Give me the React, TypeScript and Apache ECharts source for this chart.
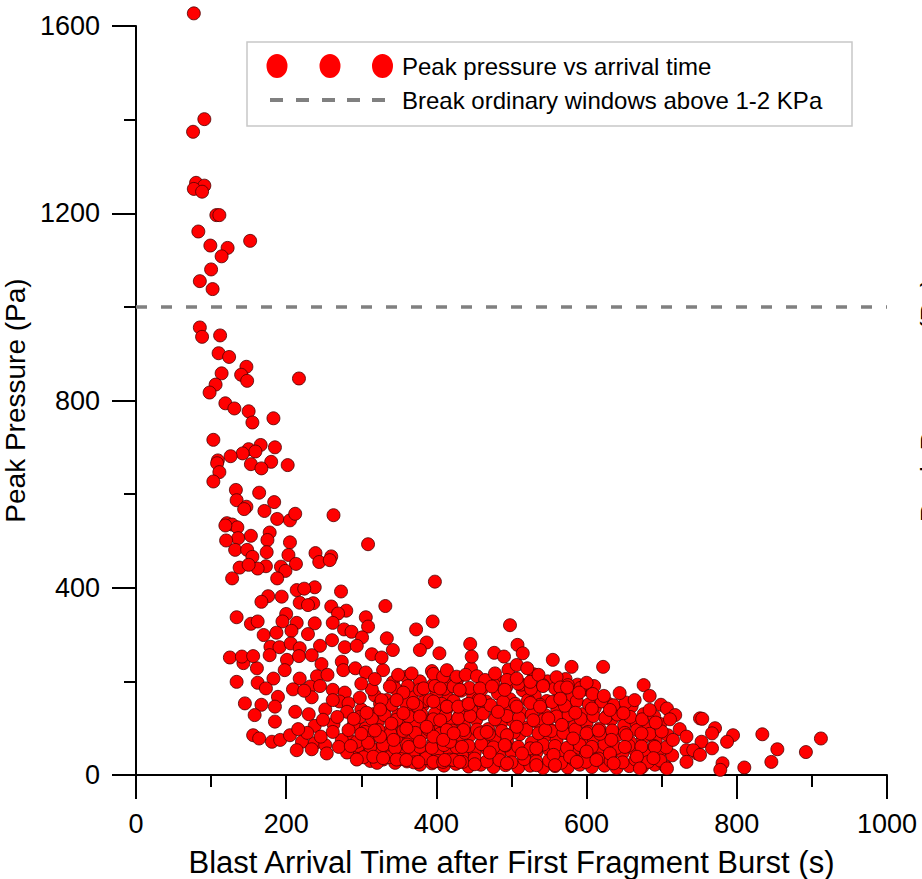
import React, { useEffect, useRef } from "react";
import * as echarts from "echarts";

const FONT = "'Liberation Sans', Arial, Helvetica, sans-serif";

const xTicks = [0, 200, 400, 600, 800, 1000];
const yTicks = [0, 400, 800, 1200, 1600];

const seriesScatterName = "Peak pressure vs arrival time";
const seriesLineName = "Break ordinary windows above 1-2 KPa";
const thresholdPa = 1000;

const sparseUpper: number[][] = [
  [77,1627],[91,1401],[76,1374],[80,1265],[91,1259],[77,1252],[88,1246],[107,1196],[111,1196],[83,1161],
  [99,1131],[122,1126],[152,1141],[114,1108],[100,1080],[85,1055],[102,1038],
  [85,956],[88,936],[112,939],[110,901],[124,893],[147,872],[114,858],[140,855],[148,842],[217,847],
  [106,834],[98,817],[119,794],[131,783],[150,777],[155,753],[183,762],[103,716],[166,705],[185,700],
  [150,696],[159,691],[142,687],[126,681],[109,672],[108,666],[153,664],[180,669],[202,662],[167,655],
  [111,647],[103,627],[133,609],[164,603],[134,587],[147,573],[144,568],[184,583],[171,564],[212,558],[263,555]
];

const midBand: number[][] = [
  [188,547],[205,544],[121,538],[128,535],[135,529],[119,533],[178,518],[153,511],[136,506],[175,502],
  [120,501],[205,497],[309,493],[132,481],[148,481],[174,476],[155,466],[203,470],[239,474],[260,467],
  [244,455],[138,443],[213,451],[193,445],[173,446],[162,441],[199,436],[398,413],[128,420],[150,449],
  [188,420],[258,459],[273,392],[238,401],[214,395],[224,398],[176,382],[194,381],[167,370],[218,368],
  [236,367],[229,363],[260,360],[332,361],[280,351],[269,345],[134,337],[200,344],[306,337],[395,328],
  [153,323],[162,328],[195,328],[214,325],[238,324],[262,325],[309,317],[373,311],[170,299],[187,304],
  [207,308],[229,301],[277,311],[287,306],[301,294],[261,288],[334,292],[387,283],[179,274],[191,273],
  [206,281],[218,271],[245,276],[278,273],[294,276],[342,267],[378,267],[498,320],[445,280],[508,278],
  [404,260],[477,261],[515,260],[314,258],[125,251],[141,253],[156,254],[178,256],[217,254],[234,256],
  [327,251],[447,253],[490,253]
];

const lowerBand: number[][] = [
  [201,246],[247,237],[274,242],[143,239],[161,228],[183,206],[198,224],[218,206],[241,211],[255,214],
  [276,224],[292,228],[306,219],[329,224],[349,214],[367,217],[396,216],[409,210],[134,199],[162,197],
  [173,185],[209,183],[232,189],[262,182],[278,176],[314,183],[338,189],[356,176],[383,185],[398,190],
  [423,189],[189,167],[234,166],[271,157],[283,153],[327,160],[347,160],[369,154],[396,157],[414,146],
  [145,153],[167,150],[185,146],[158,128],[212,135],[252,140],[281,135],[307,133],[325,140],[356,132],
  [378,125],[405,117],[185,114],[238,105],[263,109],[283,96],[318,95],[340,110],[360,99],[387,103],[414,96],
  [228,90],[246,82],[262,92],[270,60],[286,62],[300,88],[216,98],[249,118],[268,124],[290,120],
  [230,130],[262,160],[298,165],[224,180],[245,190],[300,195],[318,205]
];

const bottomBand: number[][] = [
  [156,85],[164,78],[181,71],[192,75],[205,85],[221,71],[238,68],[252,64],[274,75],[294,71],
  [309,69],[325,82],[343,75],[363,60],[378,71],[396,82],[418,71],[214,53],[234,55],[254,46],
  [281,48],[303,38],[316,39],[329,36],[347,33],[360,32],[376,28],[396,28],[409,28],[423,32],[294,33]
];

const rightCluster: number[][] = [
  [507,235],[521,228],[555,246],[580,231],[622,231],[414,224],[427,210],[439,214],[454,211],[465,203],
  [478,217],[494,203],[507,206],[525,199],[536,214],[560,209],[600,197],[676,192],[405,185],[431,182],
  [458,185],[474,189],[491,182],[542,190],[565,187],[574,187],[590,176],[608,173],[623,169],[644,175],
  [664,160],[684,169],[699,150],[707,142],[718,128],[414,146],[429,146],[443,152],[458,160],[482,135],
  [507,146],[525,154],[538,146],[565,163],[585,133],[607,142],[631,139],[649,132],[684,139],[692,112],
  [711,119],[724,98],[733,82],[751,121],[436,96],[458,89],[467,92],[494,85],[507,103],[529,117],
  [545,96],[549,121],[567,107],[582,78],[600,89],[616,95],[633,75],[653,85],[673,89],[691,60],
  [715,75],[733,53],[747,46],[409,75],[423,89],[434,60],[451,23],[471,48],[491,64],[514,46],
  [533,57],[556,43],[578,39],[600,50],[613,32],[631,46],[651,60],[667,39],[689,36],[707,14],
  [411,32],[431,28],[494,25],[533,21],[558,21],[587,28],[636,25],[671,14]
];

const tailRight: number[][] = [
  [754,120],[771,100],[767,89],[795,85],[787,71],[834,87],[854,55],[846,28],[892,49],[912,78],
  [810,16],[781,25],[778,11],[753,71],[767,57],[742,53],[751,43],[733,28]
];

const denseFill: number[][] = [
  [296,36],[312,30],[329,33],[345,26],[361,29],[378,22],[394,25],[410,20],[426,24],[443,18],[459,22],
  [476,17],[492,21],[509,16],[525,20],[542,15],[558,19],[575,16],[591,22],[607,17],[624,20],[640,15],
  [657,19],[674,17],[691,22],[705,18],
  [288,52],[304,47],[320,55],[337,45],[353,50],[369,43],[386,49],[402,44],[418,52],[435,41],[451,47],
  [468,55],[484,43],[500,50],[517,40],[533,48],[550,54],[566,42],[582,49],[599,44],[615,53],[632,41],
  [648,47],[665,52],[681,45],[698,50],[714,42],
  [282,78],[298,72],[315,84],[331,70],[347,80],[364,74],[380,86],[396,68],[413,79],[429,72],[445,85],
  [462,70],[478,80],[494,73],[511,87],[527,69],[544,82],[560,74],[576,88],[593,71],[609,80],[626,73],
  [642,86],[658,70],[675,79],[692,74],[708,85],
  [290,108],[306,100],[322,114],[339,97],[355,110],[371,103],[388,117],[404,99],[420,112],[437,104],
  [453,118],[469,98],[486,110],[502,115],[518,101],[535,112],[551,98],[568,116],[584,104],[600,111],
  [617,99],[633,118],[650,106],[666,113],[682,100],[698,109],
  [300,140],[316,130],[333,145],[349,128],[365,138],[382,149],[398,131],[414,142],[431,127],[447,138],
  [463,148],[480,129],[496,141],[512,133],[529,147],[545,128],[561,139],[578,150],[594,130],[611,143],
  [627,126],[643,137],[660,147],[676,130],
  [318,170],[334,160],[351,178],[367,166],[384,158],[400,175],[416,163],[433,180],[449,168],[466,157],
  [482,174],[498,162],[515,181],[531,169],[547,158],[564,176],[580,164],[597,183],[613,160],[629,152],
  [342,198],[360,210],[378,200],[394,222],[412,195],[428,205],[446,228],[462,196],[478,208],[496,225],
  [513,193],[530,215],[548,200],[572,205],[588,193],[610,190]
];

const denseFill2: number[][] = [
  [304,40],[321,26],[337,38],[353,34],[370,27],[386,36],[402,30],[418,33],[435,28],[451,35],[467,29],
  [484,32],[500,27],[517,34],[533,29],[550,31],[566,26],[583,33],[599,28],[616,35],[632,30],[648,27],
  [665,33],[682,28],[698,31],
  [296,62],[312,60],[329,64],[345,58],[361,65],[378,60],[394,58],[410,64],[427,59],[443,62],[460,66],
  [476,59],[492,63],[509,60],[525,57],[542,65],[558,62],[574,58],[591,64],[607,60],[624,66],[640,58],
  [656,63],[673,61],[690,62],[706,59],
  [305,92],[323,96],[339,88],[356,94],[372,90],[389,98],[405,88],[421,95],[438,90],[454,97],[470,88],
  [487,94],[503,91],[520,96],[536,89],[553,94],[569,90],[585,97],[602,92],[618,88],[634,95],[651,90],
  [667,96],[684,88],[700,93],
  [298,124],[314,120],[331,128],[347,118],[363,125],[380,130],[396,119],[412,127],[429,121],[445,126],
  [462,131],[478,119],[494,126],[510,122],[527,129],[543,118],[560,125],[576,128],[592,120],[609,126],
  [625,122],[641,129],[658,124],[674,119],[690,125],
  [325,152],[341,150],[358,156],[374,148],[391,160],[407,152],[423,158],[440,150],[456,161],[472,149],
  [489,156],[505,152],[522,160],[538,150],[554,156],[571,148],[587,158],[603,151],[620,157],[636,149],
  [652,155],
  [345,185],[362,190],[378,182],[395,192],[411,184],[427,192],[444,186],[460,182],[476,194],[493,188],
  [509,195],[526,184],[542,192],[558,185],[575,192],[592,186]
];

const scatterData = [
  ...denseFill, ...denseFill2, ...bottomBand, ...lowerBand, ...rightCluster, ...tailRight, ...midBand, ...sparseUpper
];

const cornerDots = "M0,0 h0.01 v0.01 h-0.01 Z M131,24 h-0.01 v-0.01 h0.01 Z ";
const ellipse = (cx: number) =>
  `M${cx - 10.5},12 A10.5,12 0 1,0 ${cx + 10.5},12 A10.5,12 0 1,0 ${cx - 10.5},12 Z `;
const circlesIcon = "path://" + cornerDots + ellipse(11) + ellipse(64) + ellipse(116.5);
const dash = (x: number) => `M${x},10 h13 v4 h-13 Z `;
const dashIcon = "path://" + cornerDots + dash(4) + dash(30) + dash(56) + dash(81) + dash(106);

export default function App() {
  const ref = useRef<HTMLDivElement>(null);
  useEffect(() => {
    if (!ref.current) return;
    const chart = echarts.init(ref.current, undefined, { renderer: "svg" });
    const axisCommon = {
      axisLine: { show: true, onZero: false, lineStyle: { color: "#000", width: 2 } },
      axisTick: { show: true, inside: false, length: 24, lineStyle: { color: "#000", width: 2 } },
      minorTick: { show: true, splitNumber: 2, length: 12, lineStyle: { color: "#000", width: 2 } },
      splitLine: { show: false },
      minorSplitLine: { show: false },
    };
    chart.setOption({
      animation: false,
      backgroundColor: "#fff",
      textStyle: { fontFamily: FONT },
      grid: { left: 136, right: 35, top: 26, bottom: 104, containLabel: false, outerBoundsMode: "none" },
      xAxis: {
        type: "value",
        min: xTicks[0],
        max: xTicks[xTicks.length - 1],
        interval: xTicks[1] - xTicks[0],
        name: "Blast Arrival Time after First Fragment Burst (s)",
        nameLocation: "middle",
        nameGap: 72,
        nameTextStyle: { fontSize: 31, color: "#000", fontFamily: FONT },
        axisLabel: { fontSize: 27, color: "#000", margin: 35, fontFamily: FONT, formatter: (v: number) => String(v) },
        ...axisCommon,
      },
      yAxis: {
        type: "value",
        min: yTicks[0],
        max: yTicks[yTicks.length - 1],
        interval: yTicks[1] - yTicks[0],
        name: "Peak Pressure (Pa)",
        nameLocation: "middle",
        nameGap: 92,
        nameTextStyle: { fontSize: 28, color: "#000", fontFamily: FONT },
        axisLabel: { fontSize: 27, color: "#000", margin: 36, fontFamily: FONT, formatter: (v: number) => String(v) },
        ...axisCommon,
      },
      legend: {
        orient: "vertical",
        left: 266,
        top: 54,
        padding: 0,
        itemGap: 10,
        itemWidth: 131,
        itemHeight: 24,
        symbolKeepAspect: false,
        selectedMode: false,
        textStyle: { fontSize: 24, color: "#000", fontFamily: FONT },
        data: [
          { name: seriesScatterName, icon: circlesIcon, itemStyle: { borderWidth: 0 } },
          { name: seriesLineName, icon: dashIcon, itemStyle: { borderWidth: 0 } },
        ],
      },
      graphic: [
        {
          type: "rect",
          z: 0,
          shape: { x: 247, y: 42, width: 605, height: 84 },
          style: { fill: "#fff", stroke: "#c8c8c8", lineWidth: 1.5 },
        },
        {
          type: "text",
          x: 930,
          y: 400,
          rotation: Math.PI / 2,
          style: {
            text: "Peak Pressure (Pa)",
            font: `28px ${FONT}`,
            fill: "#000",
            align: "center",
            verticalAlign: "middle",
          },
        },
      ],
      series: [
        {
          name: seriesScatterName,
          type: "scatter",
          data: scatterData,
          symbol: "circle",
          symbolSize: 13,
          clip: false,
          itemStyle: { color: "#ff0000", borderColor: "#4a0000", borderWidth: 0.8, opacity: 1 },
          z: 3,
        },
        {
          name: seriesLineName,
          type: "line",
          data: [[xTicks[0], thresholdPa], [xTicks[xTicks.length - 1], thresholdPa]],
          symbol: "none",
          lineStyle: { color: "#808080", width: 3.5, type: [11, 14] },
          itemStyle: { color: "#808080" },
          z: 2,
        },
      ],
    });
    return () => chart.dispose();
  }, []);
  return (
    <div
      ref={ref}
      style={{ position: "fixed", left: 0, top: 0, width: 922, height: 879, background: "#fff" }}
    />
  );
}
